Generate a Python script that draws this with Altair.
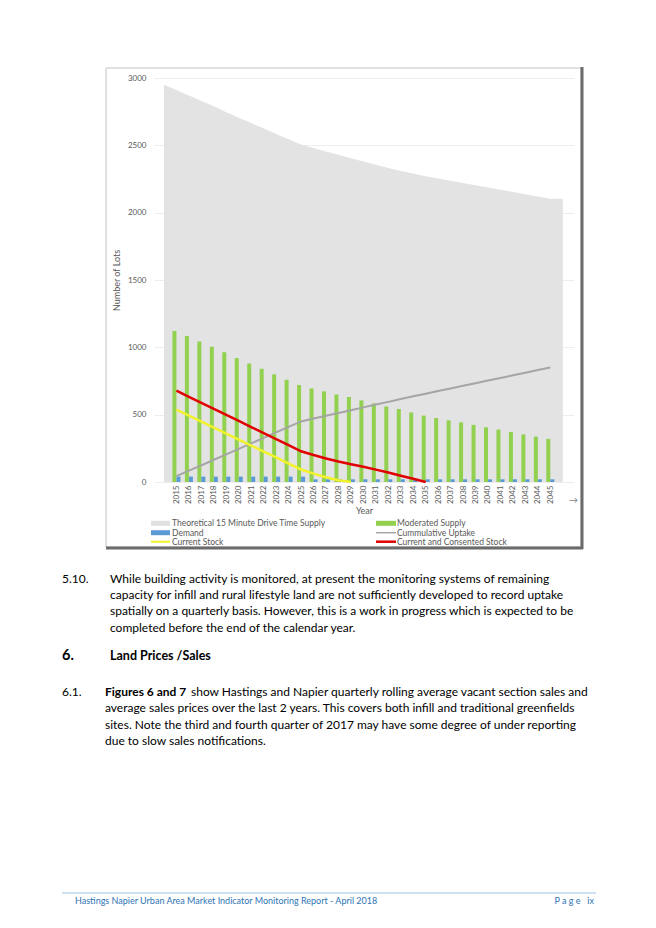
import altair as alt
import pandas as pd

# ---------------- data ----------------
years = list(range(2015, 2046))
area_years = list(range(2014, 2047))
theoretical_supply = [2950, 2910, 2870, 2830, 2790, 2745, 2705, 2665, 2625, 2585, 2545, 2506,
                      2480, 2455, 2430, 2405, 2380, 2355, 2332, 2310, 2290, 2271,
                      2254, 2237, 2220, 2203, 2186, 2170, 2153, 2137, 2120, 2104, 2104]
moderated_supply = [1122, 1085, 1043, 1004, 964, 920, 880, 841, 799, 759, 720,
                    695, 673, 650, 631, 606, 584, 561, 542, 517, 493,
                    475, 458, 443, 424, 406, 389, 372, 354, 337, 320]
demand = [40, 40, 40, 40, 40, 40, 40, 40, 40, 40, 40,
          20, 20, 20, 20, 20, 20, 20, 20, 20, 20,
          20, 20, 20, 20, 20, 20, 20, 20, 20, 20]
cumulative_uptake = [43, 84, 124, 165, 205, 246, 287, 328, 368, 409, 450,
                     471, 492, 512, 533, 554, 575, 595, 616, 636, 656,
                     675, 695, 714, 734, 753, 772, 792, 811, 831, 850]
stock_years = list(range(2015, 2030))
current_stock = [537, 493, 448, 404, 360, 315, 271, 226, 182, 137, 93, 62, 35, 13, 0]
consented_years = list(range(2015, 2036))
consented_stock = [678, 633, 588, 543, 498, 453, 408, 363, 318, 273, 228,
                   200, 175, 152, 132, 113, 92, 70, 47, 24, 0]
y_ticks = [0, 500, 1000, 1500, 2000, 2500, 3000]
series_names = ["Theoretical 15 Minute Drive Time Supply", "Moderated Supply", "Demand",
                "Cummulative Uptake", "Current Stock", "Current and Consented Stock"]

para_510 = ["While building activity is monitored, at present the monitoring systems of remaining",
            "capacity for infill and rural lifestyle land are not sufficiently developed to record uptake",
            "spatially on a quarterly basis. However, this is a work in progress which is expected to be",
            "completed before the end of the calendar year."]
para_61_bold = "Figures 6 and 7"
para_61_first = "show Hastings and Napier quarterly rolling average vacant section sales and"
para_61_rest = ["average sales prices over the last 2 years. This covers both infill and traditional greenfields",
                "sites. Note the third and fourth quarter of 2017 may have some degree of under reporting",
                "due to slow sales notifications."]
footer_text = "Hastings Napier Urban Area Market Indicator Monitoring Report - April 2018"
page_text = "P a g e\u00a0\u00a0\u00a0ix"

FONT = "Lato"
AX = "#595959"

df_area = pd.DataFrame({"year": area_years, "v": theoretical_supply})
df_bar = pd.DataFrame({"year": years, "mod": moderated_supply, "dem": demand, "cum": cumulative_uptake})
df_stock = pd.DataFrame({"year": stock_years, "v": current_stock})
df_cons = pd.DataFrame({"year": consented_years, "v": consented_stock})
one = pd.DataFrame({"k": [0]})

xscale = alt.Scale(domain=[2013.6, 2046.5], nice=False, zero=False)
yscale = alt.Scale(domain=[0, 3000], nice=False)

x_axis = alt.Axis(values=years, format="d", labelAngle=270, labelFontSize=8, labelColor=AX,
                  labelFont=FONT, labelPadding=3, labelOverlap=False, labelFlush=False,
                  title="Year", titleFontSize=9, titleColor=AX, titleFont=FONT,
                  titleFontWeight="normal", titlePadding=3, domain=False, ticks=False, grid=False)
y_axis = alt.Axis(values=y_ticks, format="d", labelFontSize=8, labelColor=AX, labelFont=FONT,
                  labelPadding=8, title="Number of Lots", titleFontSize=9, titleColor=AX,
                  titleFont=FONT, titleFontWeight="normal", titlePadding=6, domain=False,
                  ticks=False, grid=True, gridColor="#ededed", gridWidth=1)


def series(df, mark, ycol):
    return mark.encode(x=alt.X("year:Q", scale=xscale, axis=x_axis),
                       y=alt.Y(f"{ycol}:Q", scale=yscale, axis=y_axis))


area = series(df_area, alt.Chart(df_area).mark_area(color="#e3e3e3", opacity=1), "v")
green = series(df_bar, alt.Chart(df_bar).mark_bar(width=4, xOffset=-2, color="#92d050"), "mod")
blue = series(df_bar, alt.Chart(df_bar).mark_bar(width=4, xOffset=2, color="#5b9bd5"), "dem")
cum = series(df_bar, alt.Chart(df_bar).mark_line(color="#a5a5a5", strokeWidth=2), "cum")
yellow = series(df_stock, alt.Chart(df_stock).mark_line(color="#f2f22a", strokeWidth=2.5), "v")
red = series(df_cons, alt.Chart(df_cons).mark_line(color="#e00000", strokeWidth=2.5), "v")

# plot origin on the page is (154, 78)
OX, OY = 154, 78


def txt(s, x, y, size=12, weight="normal", color="#000000", align="left", font=FONT, lh=16.4):
    return alt.Chart(one).mark_text(text=s, fontSize=size, fontWeight=weight, color=color,
                                    align=align, baseline="middle", font=font, lineHeight=lh).encode(
        x=alt.value(x - OX), y=alt.value(y - OY))


def rect(x1, y1, x2, y2, **kw):
    return alt.Chart(one).mark_rect(**kw).encode(
        x=alt.value(x1 - OX), x2=alt.value(x2 - OX), y=alt.value(y1 - OY), y2=alt.value(y2 - OY))


def hline(x1, x2, y, color, w):
    return alt.Chart(one).mark_rule(color=color, strokeWidth=w).encode(
        x=alt.value(x1 - OX), x2=alt.value(x2 - OX), y=alt.value(y - OY))


def vline(x, y1, y2, color, w):
    return alt.Chart(one).mark_rule(color=color, strokeWidth=w).encode(
        x=alt.value(x - OX), y=alt.value(y1 - OY), y2=alt.value(y2 - OY))


deco = [
    rect(106, 68, 581, 547, fill="#ffffff", fillOpacity=0, stroke="#c4c4c4", strokeWidth=1),
    vline(582, 67, 549, "#6b6b6b", 3),
    hline(106, 583, 548, "#6b6b6b", 3),
    txt("\u2192", 569, 500, size=9, color="#808080"),
]

# legend
rows = [523.3, 532.7, 541.7]
legend = [
    rect(151, rows[0] - 2.5, 170, rows[0] + 2.5, fill="#e0e0e0"),
    txt(series_names[0], 172, rows[0], size=8.5, color=AX),
    rect(151, rows[1] - 2.5, 170, rows[1] + 2.5, fill="#5b9bd5"),
    txt(series_names[2], 172, rows[1], size=8.5, color=AX),
    hline(151, 170, rows[2], "#f2f22a", 2),
    txt(series_names[4], 172, rows[2], size=8.5, color=AX),
    rect(376, rows[0] - 2.5, 396, rows[0] + 2.5, fill="#92d050"),
    txt(series_names[1], 397, rows[0], size=8.5, color=AX),
    hline(376, 396, rows[1], "#a5a5a5", 1.5),
    txt(series_names[3], 397, rows[1], size=8.5, color=AX),
    hline(376, 396, rows[2], "#e00000", 2.5),
    txt(series_names[5], 397, rows[2], size=8.5, color=AX),
]

# page text
BODY = 12
page = [
    txt("5.10.", 62, 578.7, size=BODY),
    txt(para_510, 110, 578.7, size=BODY),
    txt("6.", 62, 656, size=14.5, weight="bold"),
    txt("Land Prices /Sales", 110, 656, size=12.5, weight="bold"),
    txt("6.1.", 62, 691.7, size=BODY),
    txt(para_61_bold, 105, 691.7, size=BODY, weight="bold"),
    txt(para_61_first, 191, 691.7, size=BODY),
    txt(para_61_rest, 105, 708.3, size=BODY),
    hline(62, 596, 893, "#9dc3e6", 1),
    txt(footer_text, 75, 901, size=9, color="#2e74b5"),
    txt(page_text, 594, 901, size=9, color="#2e74b5", align="right"),
]

chart = alt.layer(area, green, blue, cum, yellow, red, *deco, *legend, *page).properties(
    width=420, height=404,
    autosize=alt.AutoSizeParams(type="none"),
    padding={"left": OX - 8, "top": OY - 8, "right": 640 - (OX - 8) - 420, "bottom": 910 - (OY - 8) - 404},
    background="#ffffff",
).configure_view(stroke=None)

chart.save("out.html", embed_options={"renderer": "svg", "actions": False})
